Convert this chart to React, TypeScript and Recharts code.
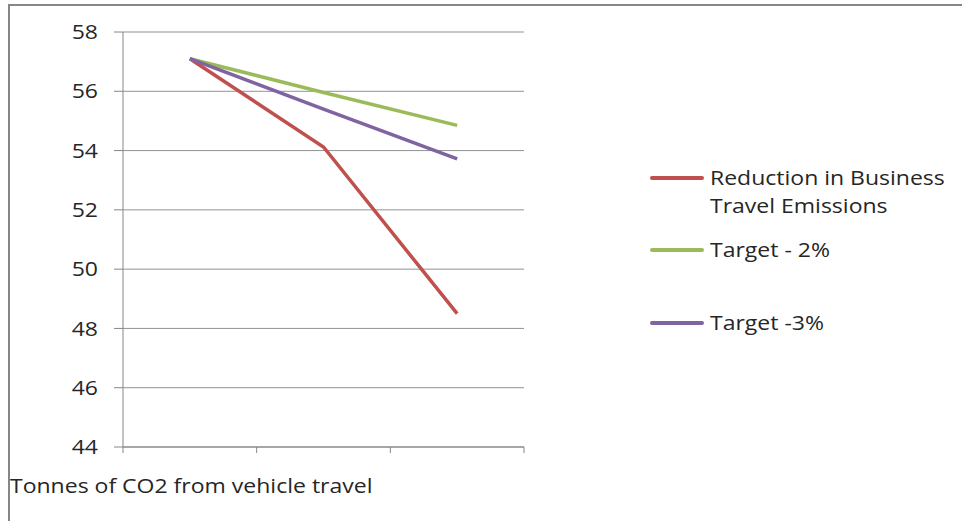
import React from 'react';
import { LineChart, Line, XAxis, YAxis, CartesianGrid } from 'recharts';

const periods = [1, 2, 3];
const actual = [57.1, 54.12, 48.5];
const target2 = [57.1, 55.96, 54.85];
const target3 = [57.1, 55.4, 53.72];
const yTicks = [44, 46, 48, 50, 52, 54, 56, 58];
const xTicks = [0.5, 1.5, 2.5, 3.5];

const seriesNames = ['Reduction in Business Travel Emissions', 'Target - 2%', 'Target -3%'];
const axisTitle = 'Tonnes of CO2 from vehicle travel';

const data = periods.map((p, i) => ({
  period: p,
  actual: actual[i],
  target2: target2[i],
  target3: target3[i],
}));

const font = '"Open Sans", "DejaVu Sans", sans-serif';
const gray = '#868686';
const textColor = '#262626';
const stretch = 1.15;

const legendItems = [
  { label: ['Reduction in Business', 'Travel Emissions'], color: '#C0504D', top: 0 },
  { label: ['Target - 2%'], color: '#9BBB59', top: 72 },
  { label: ['Target -3%'], color: '#8064A2', top: 145 },
];

function YTick({ x, y, payload }: any) {
  return (
    <g transform={`translate(${x},${y}) scale(${stretch},1)`}>
      <text textAnchor="end" dy="0.36em" fill={textColor} fontSize={20} fontFamily={font}>
        {payload.value}
      </text>
    </g>
  );
}

function ChartLegend() {
  return (
    <div style={{ position: 'absolute', left: 650, top: 164, fontFamily: font, fontSize: 20, color: textColor }}>
      {legendItems.map((item) => (
        <div key={item.color} style={{ position: 'absolute', left: 0, top: item.top, display: 'flex' }}>
          <div style={{ width: 54, height: 4, borderRadius: 2, background: item.color, marginTop: 12 }} />
          <div style={{ marginLeft: 6, lineHeight: '28px', whiteSpace: 'nowrap', transform: `scaleX(${stretch})`, transformOrigin: 'left' }}>
            {item.label.map((l) => (
              <div key={l}>{l}</div>
            ))}
          </div>
        </div>
      ))}
    </div>
  );
}

export default function App() {
  return (
    <div style={{ position: 'absolute', left: 0, top: 0, width: 962, height: 521, background: '#fff', overflow: 'hidden', fontFamily: font }}>
      <div
        style={{
          position: 'absolute', left: 8, top: 4, width: 980, height: 540,
          borderTop: `2px solid ${gray}`, borderLeft: `2px solid ${gray}`,
        }}
      />
      <LineChart width={962} height={521} data={data} margin={{ top: 32, right: 438, bottom: 68, left: 63 }}>
        <CartesianGrid vertical={false} stroke={gray} strokeOpacity={0.9} />
        <XAxis
          dataKey="period"
          type="number"
          domain={[0.5, 3.5]}
          ticks={xTicks}
          tickFormatter={() => ''}
          stroke={gray}
          tickSize={6}
          height={6}
        />
        <YAxis
          domain={[44, 58]}
          ticks={yTicks}
          stroke={gray}
          tickSize={9}
          tickMargin={16}
          width={60}
          tick={<YTick />}
        />
        <Line type="linear" dataKey="actual" name={seriesNames[0]} stroke="#C0504D" strokeWidth={3.5} dot={false} isAnimationActive={false} />
        <Line type="linear" dataKey="target2" name={seriesNames[1]} stroke="#9BBB59" strokeWidth={3.5} dot={false} isAnimationActive={false} />
        <Line type="linear" dataKey="target3" name={seriesNames[2]} stroke="#8064A2" strokeWidth={3.5} dot={false} isAnimationActive={false} />
      </LineChart>
      <ChartLegend />
      <div
        style={{
          position: 'absolute', left: 10, top: 472, fontSize: 20, color: textColor, whiteSpace: 'nowrap',
          transform: `scaleX(${stretch})`, transformOrigin: 'left',
        }}
      >
        {axisTitle}
      </div>
    </div>
  );
}
